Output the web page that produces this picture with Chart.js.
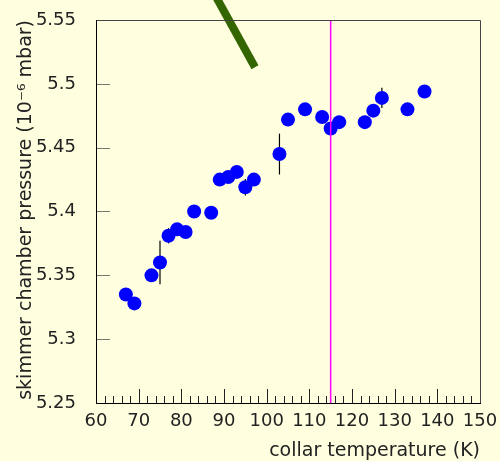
<html>
<head>
    <title>Presion en la camara del skimmer</title>
    <style>
        body { margin: 0; background: #ffffe0; }
    </style>
</head>
<body>
    <canvas id="grafico" width="500" height="461"></canvas>

    <script src="https://cdn.jsdelivr.net/npm/chart.js"></script>

    <script>
        // Datos
        const temps = [67, 69, 73, 75, 77, 79, 81, 83, 87, 89, 91, 93, 95, 97, 103, 105, 109, 113, 115, 117, 123, 125, 127, 133, 137];
        const pressures = [5.335, 5.328, 5.350, 5.360, 5.381, 5.386, 5.384, 5.400, 5.399, 5.425, 5.427, 5.431, 5.419, 5.425,
                           5.445, 5.472, 5.480, 5.474, 5.465, 5.470, 5.470, 5.479, 5.489, 5.480, 5.494];
        const errors = [0.003, 0.003, 0.003, 0.017, 0.006, 0.003, 0.003, 0.003, 0.003, 0.003, 0.003, 0.003, 0.0065, 0.003,
                        0.016, 0.003, 0.003, 0.003, 0.003, 0.003, 0.003, 0.004, 0.008, 0.003, 0.003];
        const cutTemp = 115;           // linea magenta
        const greenX = [87.0, 97.26];  // linea verde
        const greenY = [5.575, 5.513];
        const xTicks = [60, 70, 80, 90, 100, 110, 120, 130, 140, 150];
        const yTicks = [5.25, 5.3, 5.35, 5.4, 5.45, 5.5, 5.55];

        const fuente = "'DejaVu Sans', sans-serif";

        // quitar el relleno automatico de las escalas
        function sinRelleno(s) {
            s.paddingTop = 0;
            s.paddingBottom = 0;
            s.paddingLeft = 0;
            s.paddingRight = 0;
        }

        // Barras de error, ticks hacia dentro y marco
        const marco = {
            id: 'marco',
            beforeDatasetsDraw(chart) {
                const {ctx, scales: {x, y}} = chart;
                ctx.save();
                ctx.strokeStyle = '#000';
                ctx.lineWidth = 1.2;
                temps.forEach((t, i) => {
                    const px = x.getPixelForValue(t);
                    ctx.beginPath();
                    ctx.moveTo(px, y.getPixelForValue(pressures[i] - errors[i]));
                    ctx.lineTo(px, y.getPixelForValue(pressures[i] + errors[i]));
                    ctx.stroke();
                });
                ctx.restore();
            },
            afterDatasetsDraw(chart) {
                const {ctx, chartArea: a, scales: {x, y}} = chart;
                ctx.save();
                ctx.lineWidth = 1;
                // ticks eje y
                ctx.strokeStyle = '#777';
                yTicks.forEach(v => {
                    const py = Math.round(y.getPixelForValue(v)) + 0.5;
                    ctx.beginPath();
                    ctx.moveTo(a.left, py);
                    ctx.lineTo(a.left + 14, py);
                    ctx.stroke();
                });
                // ticks eje x (mayores y menores)
                ctx.strokeStyle = '#222';
                for (let v = xTicks[0]; v <= xTicks[xTicks.length - 1]; v += 2) {
                    const px = Math.round(x.getPixelForValue(v)) + 0.5;
                    const len = xTicks.includes(v) ? 14 : 7;
                    ctx.beginPath();
                    ctx.moveTo(px, a.bottom);
                    ctx.lineTo(px, a.bottom - len);
                    ctx.stroke();
                }
                // marco
                ctx.strokeStyle = '#444';
                ctx.beginPath();
                ctx.moveTo(a.left, a.top + 0.5);
                ctx.lineTo(a.right + 0.5, a.top + 0.5);
                ctx.lineTo(a.right + 0.5, a.bottom);
                ctx.stroke();
                ctx.strokeStyle = '#000';
                ctx.beginPath();
                ctx.moveTo(a.left + 0.5, a.top);
                ctx.lineTo(a.left + 0.5, a.bottom + 0.5);
                ctx.lineTo(a.right + 1, a.bottom + 0.5);
                ctx.stroke();
                ctx.restore();
            }
        };

        const ctx = document.getElementById('grafico').getContext('2d');
        const grafico = new Chart(ctx, {
            type: 'scatter',
            data: {
                datasets: [
                    {
                        type: 'line',
                        data: [{x: cutTemp, y: yTicks[0]}, {x: cutTemp, y: yTicks[yTicks.length - 1]}],
                        borderColor: '#ff00ff',
                        borderWidth: 1.5,
                        pointRadius: 0,
                        fill: false
                    },
                    {
                        type: 'line',
                        data: [{x: greenX[0], y: greenY[0]}, {x: greenX[1], y: greenY[1]}],
                        borderColor: '#336600',
                        borderWidth: 8,
                        borderCapStyle: 'butt',
                        pointRadius: 0,
                        fill: false,
                        clip: false
                    },
                    {
                        data: temps.map((t, i) => ({x: t, y: pressures[i]})),
                        backgroundColor: '#0000ff',
                        borderColor: '#0000ff',
                        borderWidth: 0,
                        pointRadius: 7,
                        showLine: false
                    }
                ]
            },
            options: {
                responsive: false,
                animation: false,
                layout: { padding: {left: 0, top: 20, right: 20, bottom: 0} },
                plugins: { legend: {display: false}, tooltip: {enabled: false} },
                scales: {
                    x: {
                        type: 'linear',
                        min: 60,
                        max: 150,
                        afterBuildTicks: s => { s.ticks = xTicks.map(v => ({value: v})); },
                        afterFit: s => { s.height = 58; sinRelleno(s); },
                        grid: {display: false, drawTicks: false},
                        border: {display: false},
                        ticks: {
                            padding: 8,
                            color: '#222',
                            maxRotation: 0,
                            autoSkip: false,
                            font: {family: fuente, size: 18},
                            callback: v => String(v)
                        },
                        title: {
                            display: true,
                            text: 'collar temperature (K)',
                            align: 'end',
                            color: '#222',
                            padding: 0,
                            font: {family: fuente, size: 19, lineHeight: 1}
                        }
                    },
                    y: {
                        type: 'linear',
                        min: 5.25,
                        max: 5.55,
                        afterBuildTicks: s => { s.ticks = yTicks.map(v => ({value: v})); },
                        afterFit: s => { s.width = 96; sinRelleno(s); },
                        grid: {display: false, drawTicks: false},
                        border: {display: false},
                        ticks: {
                            padding: 20,
                            color: '#222',
                            autoSkip: false,
                            font: {family: fuente, size: 18},
                            callback: v => String(v)
                        },
                        title: {
                            display: true,
                            text: 'skimmer chamber pressure (10⁻⁶ mbar)',
                            align: 'end',
                            color: '#222',
                            padding: {top: 15, bottom: 0},
                            font: {family: fuente, size: 19, lineHeight: 1.2}
                        }
                    }
                }
            },
            plugins: [marco]
        });
    </script>
</body>
</html>
